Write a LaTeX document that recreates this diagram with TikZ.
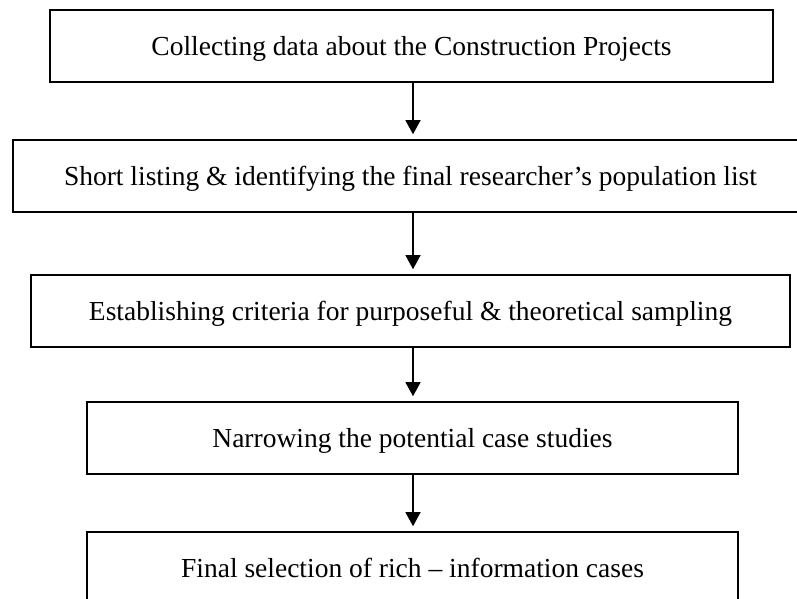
\documentclass[tikz,border=0pt]{standalone}
\usepackage{fontspec}
\setmainfont{Liberation Serif}
\usetikzlibrary{arrows.meta}
\begin{document}
\begin{tikzpicture}[x=1pt,y=-1pt,
  stepbox/.style={draw=black, line width=1.6pt, minimum height=72pt, inner sep=0pt,
    text height=18.5pt, text depth=0pt,
    font=\fontsize{27.5}{33}\selectfont},
  flow/.style={line width=1.3pt, -{Triangle[width=15pt,length=14pt]}, shorten >=5pt}]
\useasboundingbox (0,0) rectangle (797,599);
\clip (0,0) rectangle (797,599);
\node[stepbox, minimum width=723pt] (b1) at (411.5,46) {Collecting data about the Construction Projects};
\node[stepbox, minimum width=795pt] (b2) at (410.5,176) {Short listing \& identifying the final researcher’s population list};
\node[stepbox, minimum width=759pt] (b3) at (410.5,311) {Establishing criteria for purposeful \& theoretical sampling};
\node[stepbox, minimum width=651pt] (b4) at (412.5,438) {Narrowing the potential case studies};
\node[stepbox, minimum width=651pt] (b5) at (412.5,568) {Final selection of rich – information cases};
\draw[flow] ([xshift=1.5pt]b1.south) -- ([xshift=2.5pt]b2.north);
\draw[flow] ([xshift=2.5pt]b2.south) -- ([xshift=2.5pt]b3.north);
\draw[flow] ([xshift=2.5pt]b3.south) -- ([xshift=0.5pt]b4.north);
\draw[flow] ([xshift=0.5pt]b4.south) -- ([xshift=0.5pt]b5.north);
\end{tikzpicture}
\end{document}
